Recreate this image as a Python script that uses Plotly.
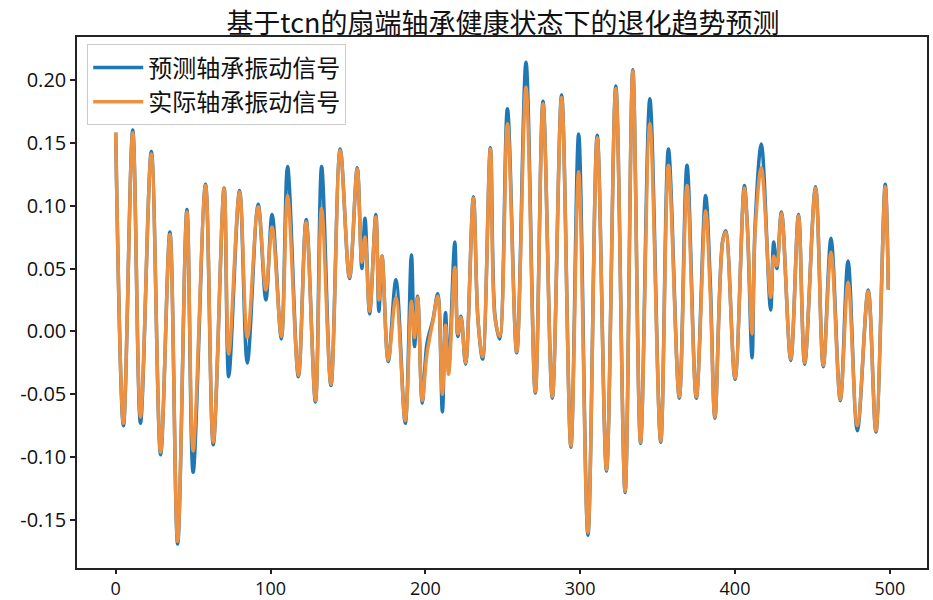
import plotly.graph_objects as go

# Sample indices of the turning points
sample_idx = [0, 5, 11, 16, 23, 29, 35, 40, 46, 50, 58, 63, 70, 73, 80, 85, 92, 97, 101, 107,
              111, 118, 123, 129, 133, 139, 145, 151, 156, 159, 161, 164, 168, 170, 172, 176,
              181, 187, 191, 193, 195, 198, 201, 205, 208, 211, 213, 215, 219, 221, 223, 226,
              231, 234, 237, 242, 245, 248, 253, 259, 265, 271, 276, 282, 288, 294, 299, 305,
              311, 317, 323, 329, 334, 339, 345, 352, 357, 364, 369, 375, 381, 384, 387, 392,
              394, 400, 406, 408, 411, 413, 417, 423, 425, 427, 430, 436, 441, 445, 452, 457,
              462, 468, 473, 479, 486, 491, 497, 499]

# Actual bearing vibration signal (orange)
actual_vals = [0.158, -0.073, 0.158, -0.068, 0.141, -0.096, 0.077, -0.167, 0.095, -0.095,
               0.116, -0.088, 0.114, -0.018, 0.111, -0.005, 0.099, 0.033, 0.083, -0.004,
               0.108, -0.035, 0.087, -0.055, 0.098, -0.042, 0.144, 0.043, 0.129, 0.055,
               0.075, 0.016, 0.091, 0.025, 0.060, -0.023, 0.027, -0.071, 0.024, -0.005,
               0.027, -0.055, -0.018, 0.009, 0.028, -0.050, 0.005, -0.034, 0.051, -0.002,
               0.011, -0.025, 0.106, 0.009, -0.020, 0.145, 0.010, -0.004, 0.165, -0.016,
               0.194, -0.048, 0.181, -0.052, 0.186, -0.091, 0.127, -0.160, 0.154, -0.110,
               0.193, -0.127, 0.207, -0.088, 0.165, -0.087, 0.132, -0.052, 0.116, -0.052,
               0.096, 0.030, -0.068, 0.071, 0.079, -0.037, 0.114, 0.082, -0.002, 0.080,
               0.130, 0.027, 0.060, 0.052, 0.094, -0.022, 0.092, -0.025, 0.114, -0.027,
               0.063, -0.054, 0.039, -0.075, 0.032, -0.079, 0.115, 0.033]

# Predicted bearing vibration signal (blue)
pred_vals = [0.158, -0.075, 0.160, -0.073, 0.143, -0.098, 0.079, -0.169, 0.097, -0.112,
             0.117, -0.090, 0.114, -0.036, 0.112, -0.025, 0.101, 0.025, 0.093, -0.006,
             0.131, -0.036, 0.089, -0.056, 0.131, -0.043, 0.145, 0.042, 0.130, 0.050,
             0.090, 0.014, 0.093, 0.016, 0.060, -0.024, 0.041, -0.073, 0.061, -0.012,
             0.028, -0.057, -0.010, 0.010, 0.030, -0.064, 0.015, -0.030, 0.071, -0.004,
             0.012, -0.026, 0.107, 0.009, -0.022, 0.146, 0.012, -0.006, 0.177, -0.017,
             0.214, -0.049, 0.183, -0.053, 0.188, -0.092, 0.157, -0.162, 0.156, -0.111,
             0.195, -0.128, 0.208, -0.089, 0.185, -0.088, 0.145, -0.053, 0.132, -0.053,
             0.108, 0.040, -0.069, 0.072, 0.080, -0.038, 0.116, 0.083, -0.021, 0.085,
             0.149, 0.017, 0.071, 0.050, 0.095, -0.023, 0.093, -0.026, 0.115, -0.028,
             0.074, -0.055, 0.056, -0.079, 0.033, -0.080, 0.117, 0.034]

x_ticks = [0, 100, 200, 300, 400, 500]
y_ticks = [-0.15, -0.10, -0.05, 0.00, 0.05, 0.10, 0.15, 0.20]
y_tick_text = ["-0.15", "-0.10", "-0.05", "0.00", "0.05", "0.10", "0.15", "0.20"]

title_text = "基于tcn的扇端轴承健康状态下的退化趋势预测"
pred_name = "预测轴承振动信号"
actual_name = "实际轴承振动信号"

fig = go.Figure()
fig.add_trace(go.Scatter(
    x=sample_idx, y=pred_vals, mode="lines", name=pred_name,
    line=dict(color="#1f77b4", width=3.5, shape="spline", smoothing=1.0),
))
fig.add_trace(go.Scatter(
    x=sample_idx, y=actual_vals, mode="lines", name=actual_name,
    line=dict(color="#EC9142", width=3.5, shape="spline", smoothing=1.0),
))

axis_common = dict(
    showline=True, linecolor="#222222", linewidth=1.5, mirror=True,
    ticks="outside", tickwidth=1.5, tickcolor="#222222",
    showgrid=False, zeroline=False, automargin=False,
)
tick_font_family = "Open Sans, Liberation Sans, sans-serif"

fig.update_layout(
    width=933, height=600,
    paper_bgcolor="white", plot_bgcolor="white",
    margin=dict(l=77, r=6, t=37, b=32),
    title=dict(text=title_text, x=0.539, xanchor="center", y=0.960, yanchor="middle",
               font=dict(family="Noto Sans CJK SC", size=27, color="#111111")),
    xaxis=dict(range=[-25, 524], tickvals=x_ticks, ticklen=4,
               tickfont=dict(family=tick_font_family, size=18, color="#111111"),
               **axis_common),
    yaxis=dict(range=[-0.188, 0.234], tickvals=y_ticks, ticktext=y_tick_text, ticklen=5,
               tickfont=dict(family=tick_font_family, size=20, color="#111111"),
               **axis_common),
    legend=dict(x=0.012, y=0.986, xanchor="left", yanchor="top",
                bgcolor="rgba(255,255,255,0.9)", bordercolor="#cccccc", borderwidth=1,
                font=dict(family="Noto Sans CJK SC", size=24, color="#111111"),
                itemwidth=50),
    showlegend=True,
)

fig.write_html(
    "out.html",
    config={"displayModeBar": False},
    post_script="document.body.style.margin='0';document.body.style.padding='0';",
)
